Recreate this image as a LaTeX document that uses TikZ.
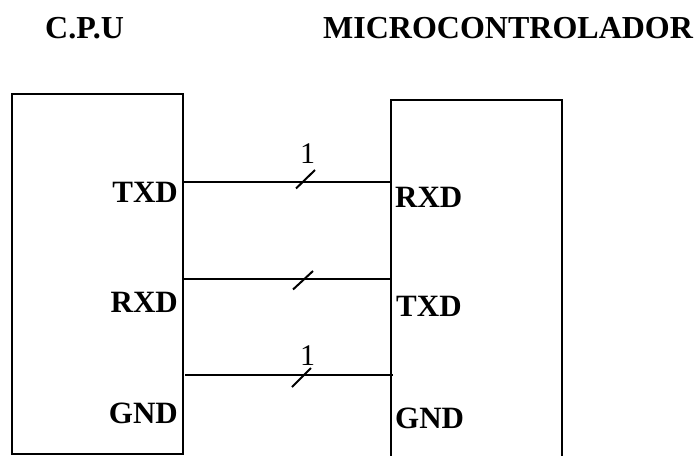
\documentclass[tikz,border=0pt]{standalone}
\usepackage{fontspec}
\setmainfont{Liberation Serif}
\begin{document}
\begin{tikzpicture}[x=1pt,y=-1pt,
  lbl/.style={font=\bfseries\fontsize{31}{31}\selectfont,inner sep=0pt},
  wl/.style={lbl,anchor=base west},
  el/.style={lbl,anchor=base east},
  ttl/.style={font=\bfseries\fontsize{32}{32}\selectfont,inner sep=0pt,anchor=base west},
  num/.style={font=\fontsize{30}{30}\selectfont,inner sep=0pt,anchor=base},
  ln/.style={line width=2.2pt},
  box/.style={line width=1.7pt},
  tick/.style={line width=2pt}]
\useasboundingbox (0,0) rectangle (698,455);
\node[ttl] (t1) at (45,38.5) {C.P.U};
\node[ttl] (t2) at (323,38.5) {MICROCONTROLADOR};
\draw[box] (12.3,454.3) rectangle (183.3,94);
\draw[box] (390.7,457) -- (390.7,100) -- (561.7,100) -- (561.7,457);
\coordinate (a1) at (184,181.7); \coordinate (b1) at (391,181.7);
\coordinate (a2) at (184,279); \coordinate (b2) at (392,279);
\coordinate (a3) at (185,375); \coordinate (b3) at (392.7,375);
\draw[ln] (a1) -- (b1);
\draw[ln] (a2) -- (b2);
\draw[ln] (a3) -- (b3);
\coordinate (s1a) at (296,188.5); \coordinate (s1b) at (315,170);
\draw[tick] (s1a) -- (s1b);
\coordinate (s2a) at (293,289.5); \coordinate (s2b) at (313,271);
\draw[tick] (s2a) -- (s2b);
\coordinate (s3a) at (292,387); \coordinate (s3b) at (311,368);
\draw[tick] (s3a) -- (s3b);
\node[num] (n1) at (307.5,163) {1};
\node[num] (n2) at (307.5,365) {1};
\node[el] (l1) at (178,202) {TXD};
\node[el] (l2) at (178,312) {RXD};
\node[el] (l3) at (178,423) {GND};
\node[wl] (r1) at (395,207) {RXD};
\node[wl] (r2) at (396,316.5) {TXD};
\node[wl] (r3) at (395,428.5) {GND};
\end{tikzpicture}
\end{document}
